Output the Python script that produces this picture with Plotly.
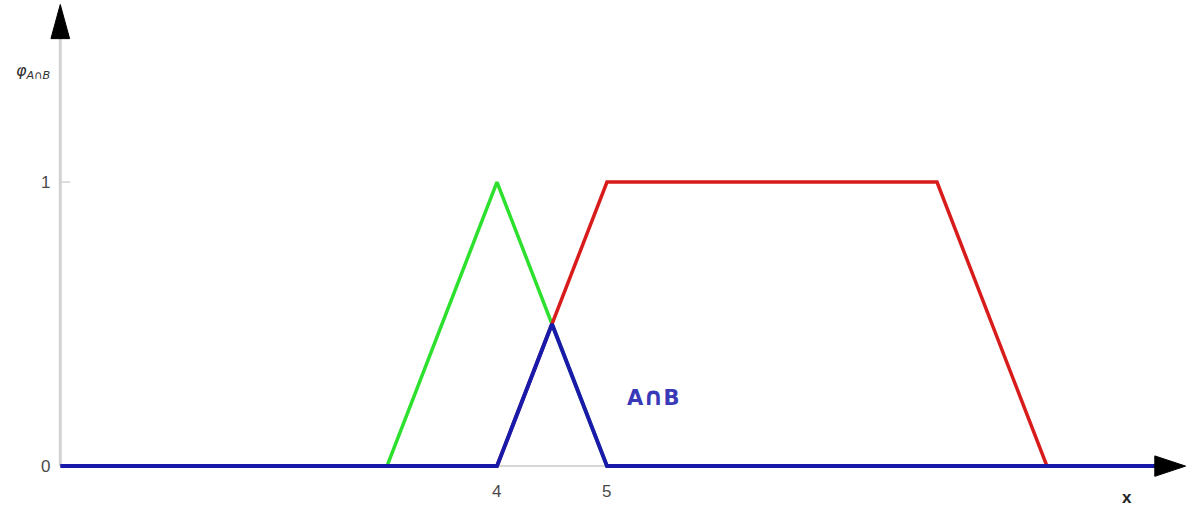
import plotly.graph_objects as go

# Fuzzy set A (triangular), fuzzy set B (trapezoidal) and their intersection A∩B
a_x = [3, 4, 5]
a_mu = [0, 1, 0]
b_x = [4, 5, 8, 9]
b_mu = [0, 1, 1, 0]
ab_x = [0.03, 4, 4.5, 5, 10]
ab_mu = [0, 0, 0.5, 0, 0]

x_ticks = [4, 5]
y_ticks = [0, 1]

GREEN = "#2ee02e"
RED = "#d81c1c"
BLUE = "#1a1aaa"
AXIS_GREY = "#d2d2d2"

fig = go.Figure()
fig.add_trace(go.Scatter(x=a_x, y=a_mu, mode="lines",
                         line=dict(color=GREEN, width=3.5), hoverinfo="skip"))
fig.add_trace(go.Scatter(x=b_x, y=b_mu, mode="lines",
                         line=dict(color=RED, width=3.5), hoverinfo="skip"))
fig.add_trace(go.Scatter(x=ab_x, y=ab_mu, mode="lines",
                         line=dict(color=BLUE, width=4), hoverinfo="skip"))

AX0 = 0.03
shapes = [
    # vertical axis line
    dict(type="line", x0=AX0, x1=AX0, y0=0, y1=1.51, layer="below",
         line=dict(color=AXIS_GREY, width=3)),
    # horizontal axis line
    dict(type="line", x0=AX0, x1=10.05, y0=0, y1=0, layer="below",
         line=dict(color="#c8c8c8", width=1.5)),
    # tick mark at membership 1
    dict(type="line", x0=AX0, x1=AX0 + 0.09, y0=1, y1=1, layer="below",
         line=dict(color=AXIS_GREY, width=1.5)),
    # arrow heads
    dict(type="path",
         path=f"M {AX0},1.625 L {AX0 - 0.085},1.505 L {AX0 + 0.085},1.505 Z",
         fillcolor="black", line=dict(color="black", width=1)),
    dict(type="path", path="M 10.26,0 L 9.98,0.036 L 9.98,-0.036 Z",
         fillcolor="black", line=dict(color="black", width=1)),
]

tick_font = dict(family="Liberation Sans, Arial, sans-serif", size=17, color="#4a4a4a")
annotations = []
for t in x_ticks:
    annotations.append(dict(x=t, y=-0.09, text=str(t), showarrow=False, font=tick_font))
for t in y_ticks:
    annotations.append(dict(x=-0.1, y=t, text=str(t), showarrow=False, font=tick_font))
annotations += [
    dict(x=9.73, y=-0.11, text="<b>x</b>", showarrow=False,
         font=dict(family="Liberation Sans, Arial, sans-serif", size=17, color="#222222")),
    dict(x=-0.22, y=1.39, text="<i>φ<sub>A∩B</sub></i>", showarrow=False,
         font=dict(family="DejaVu Sans, sans-serif", size=16, color="#333333")),
    dict(x=5.42, y=0.245,
         text="<b>A<span style='font-size:25px'>∩</span>B</b>", showarrow=False,
         font=dict(family="DejaVu Sans, sans-serif", size=21, color="#3a3ab8")),
]

fig.update_layout(
    width=1189, height=509,
    margin=dict(l=0, r=0, t=0, b=0),
    paper_bgcolor="white", plot_bgcolor="white",
    showlegend=False,
    xaxis=dict(range=[-0.518, 10.291], visible=False, fixedrange=True),
    yaxis=dict(range=[-0.151, 1.641], visible=False, fixedrange=True),
    shapes=shapes,
    annotations=annotations,
)

fig.write_html("out.html")
